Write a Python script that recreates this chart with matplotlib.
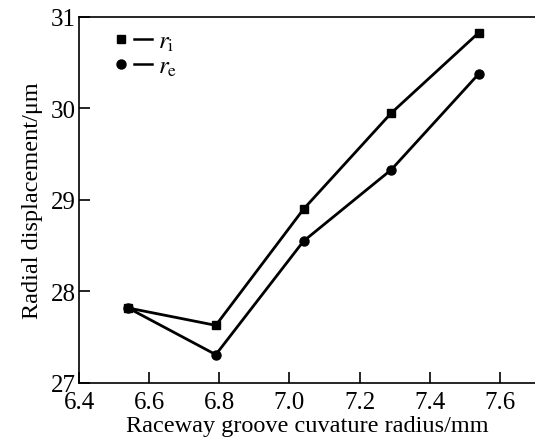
import matplotlib
matplotlib.use("Agg")
import matplotlib.pyplot as plt
from matplotlib.lines import Line2D
from matplotlib.legend_handler import HandlerTuple

plt.rcParams["font.family"] = ["Liberation Serif", "DejaVu Serif"]
plt.rcParams["mathtext.fontset"] = "stix"

# groove curvature radius (mm)
radius = [6.54, 6.79, 7.04, 7.29, 7.54]
# radial displacement (um)
disp_ri = [27.82, 27.63, 28.90, 29.95, 30.83]
disp_re = [27.82, 27.31, 28.55, 29.33, 30.38]

xticks = [6.4, 6.6, 6.8, 7.0, 7.2, 7.4, 7.6]
yticks = [27, 28, 29, 30, 31]

fig = plt.figure(figsize=(5.35, 4.39), dpi=100)
ax = fig.add_axes([0.1477, 0.1253, 0.8523, 0.8337])

ax.plot(radius, disp_ri, "-s", color="black", lw=2, markersize=6)
ax.plot(radius, disp_re, "-o", color="black", lw=2, markersize=6.5)

ax.set_xlim(6.4, 7.7)
ax.set_ylim(27, 31)
ax.set_xticks(xticks)
ax.set_xticklabels([f"{t:.1f}" for t in xticks])
ax.set_yticks(yticks)
ax.tick_params(direction="in", length=8, width=1.2, labelsize=18)
ax.tick_params(axis="x", pad=6)
ax.tick_params(axis="y", pad=2)
ax.spines["right"].set_visible(False)
for s in ("left", "bottom", "top"):
    ax.spines[s].set_linewidth(1.2)

ax.set_xlabel("Raceway groove cuvature radius/mm", fontsize=17.5, labelpad=1)
ax.set_ylabel("Radial displacement/\u03bcm", fontsize=17.5, labelpad=6)

# legend: marker first, then a short line
h_ri = (Line2D([], [], ls="none", marker="s", color="black", markersize=6),
        Line2D([], [], color="black", lw=1.8))
h_re = (Line2D([], [], ls="none", marker="o", color="black", markersize=6.5),
        Line2D([], [], color="black", lw=1.8))
ax.legend([h_ri, h_re], ["$r_{\\rm i}$", "$r_{\\rm e}$"],
          handler_map={tuple: HandlerTuple(ndivide=None, pad=0.15)},
          loc="upper left", frameon=False, fontsize=18,
          handlelength=1.6, handletextpad=0.25, labelspacing=0.1,
          borderaxespad=0.0, borderpad=0.0, bbox_to_anchor=(0.072, 0.965))

fig.savefig("out.png", dpi=100)
